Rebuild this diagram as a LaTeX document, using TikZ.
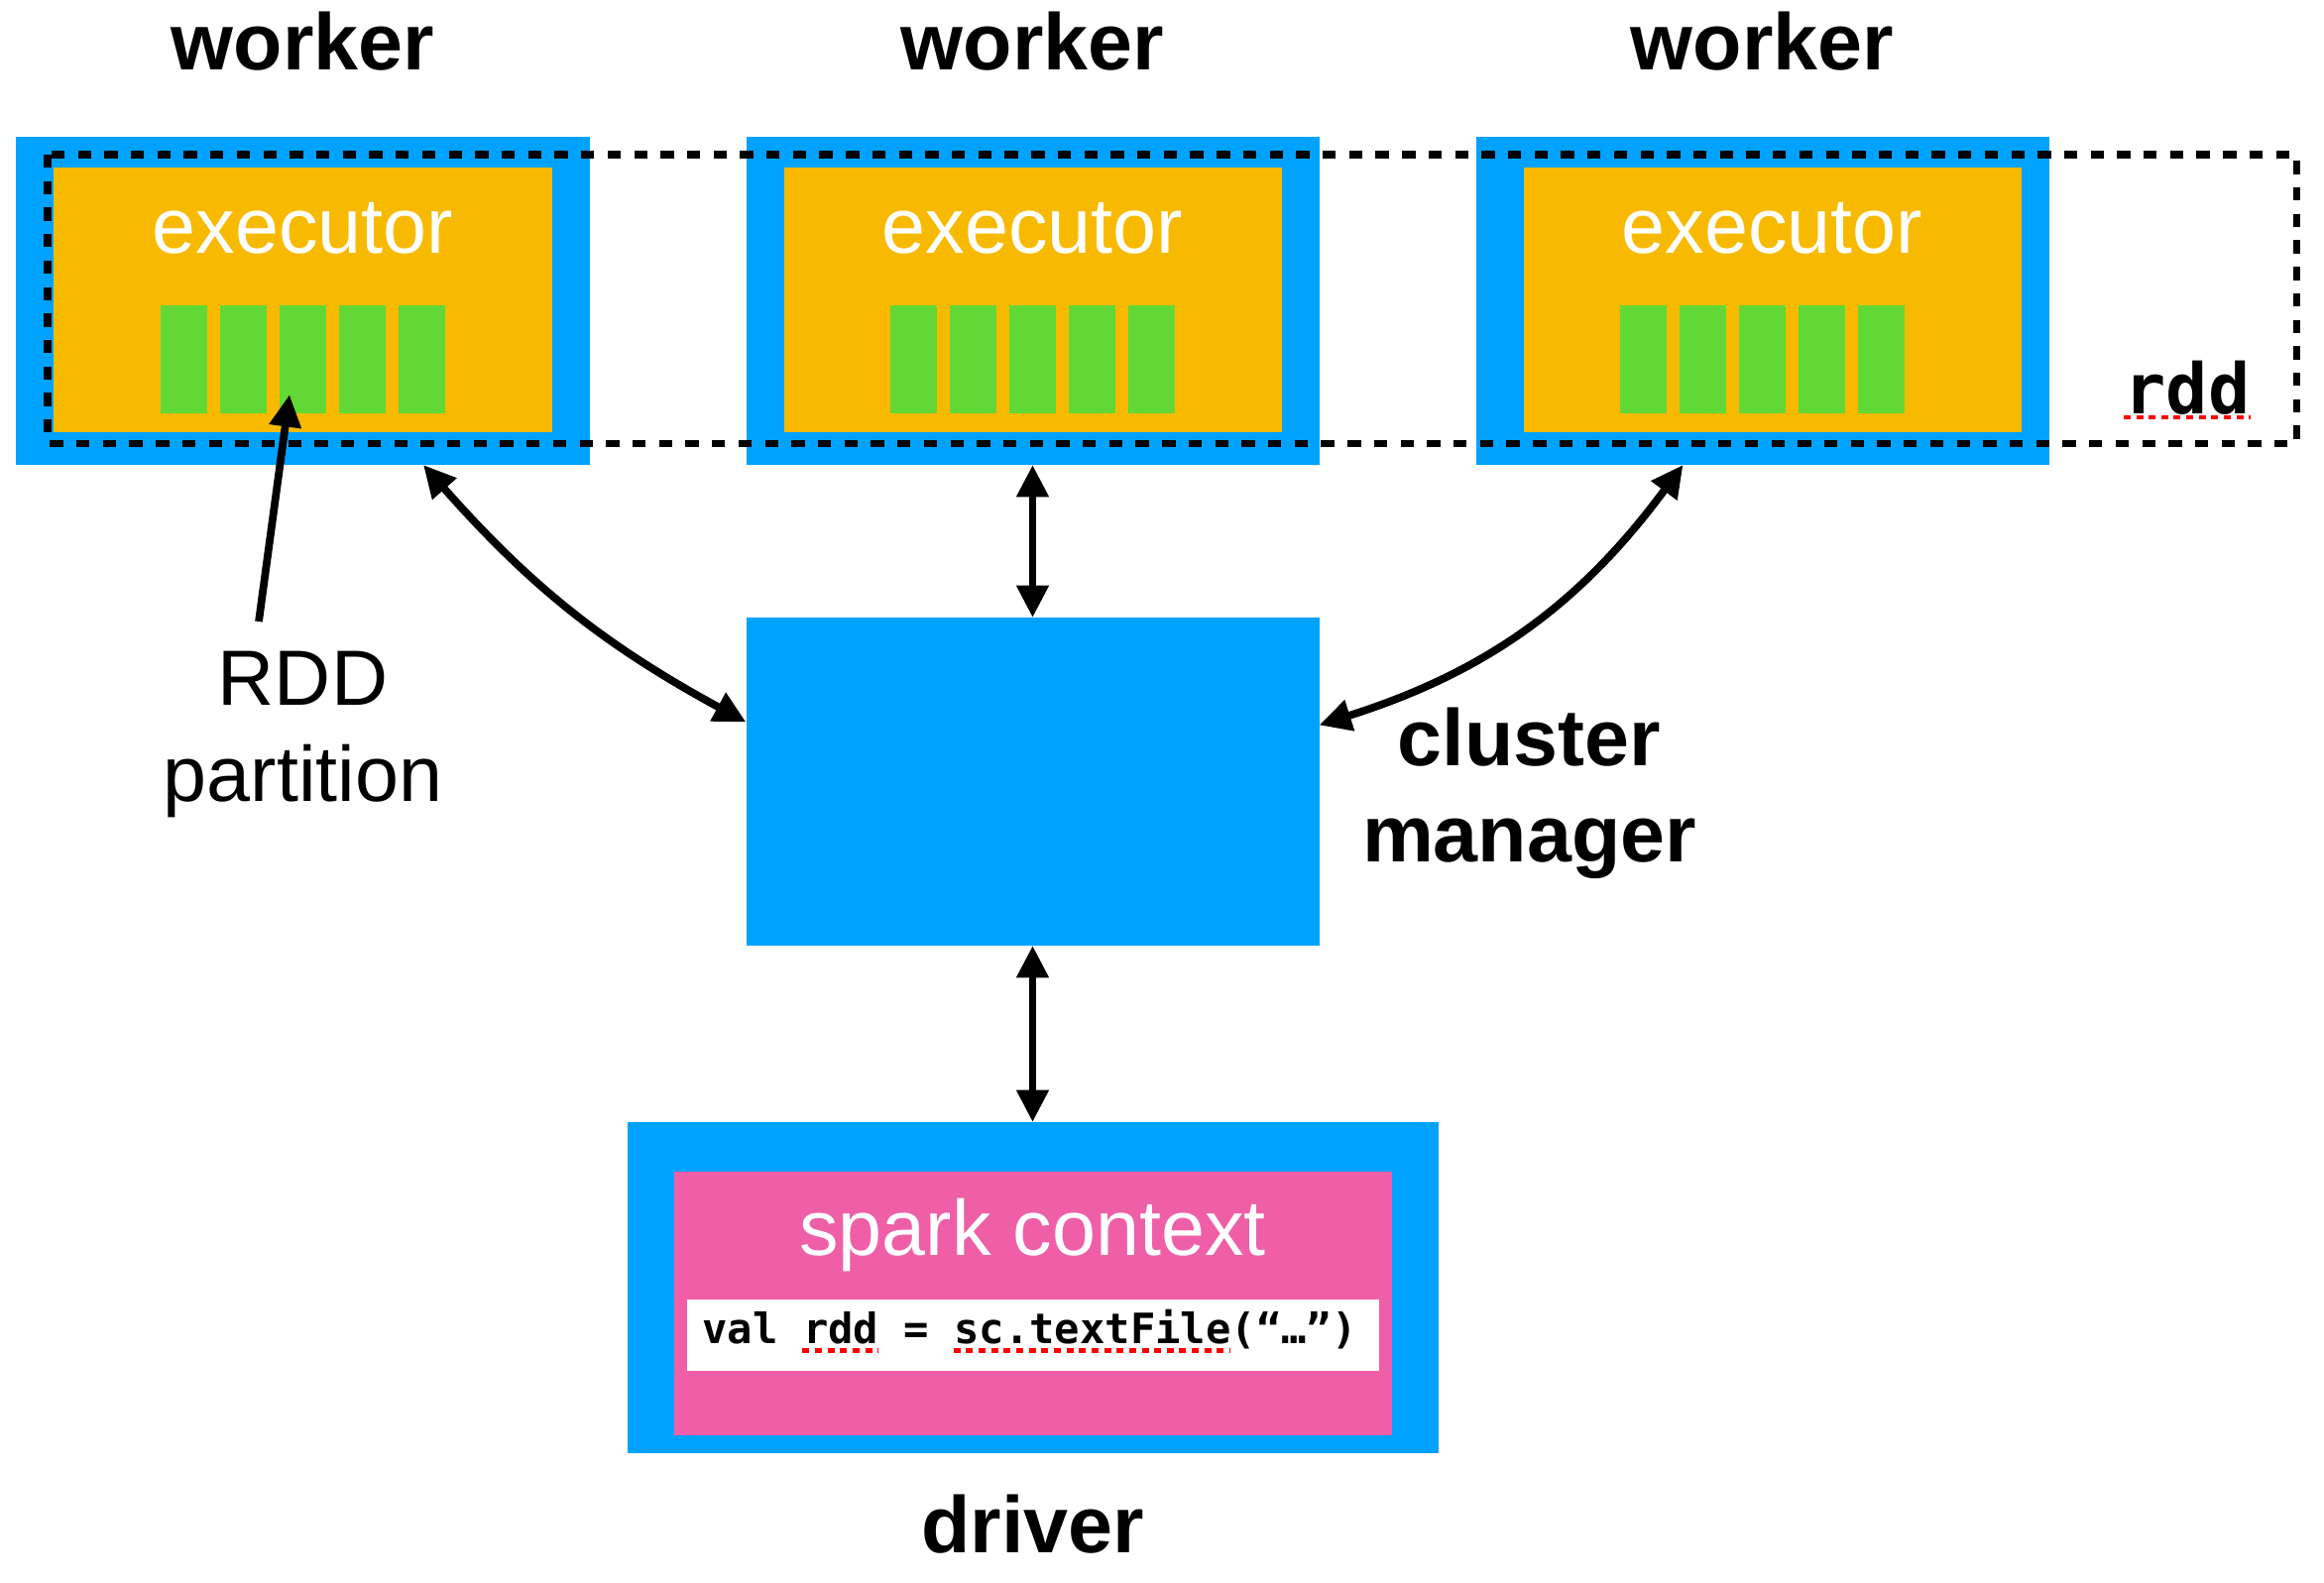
\documentclass[tikz,border=0pt]{standalone}
\usepackage{fontspec}
\setmainfont{Liberation Sans}
\newfontfamily\codefont{DejaVu Sans Mono}
\usetikzlibrary{positioning}
\usetikzlibrary{arrows.meta}

\definecolor{kblue}{HTML}{00A2FF}
\definecolor{korange}{HTML}{F8BA00}
\definecolor{kgreen}{HTML}{61D836}
\definecolor{kpink}{HTML}{EF5FA7}

% width of one code character
\newcommand{\chw}{.2539cm}

\tikzset{
    hostbox/.style={fill=kblue, inner sep=0, outer sep=0, minimum width=5.78cm, minimum height=3.31cm},
    execbox/.style={fill=korange, inner sep=0, minimum width=5.02cm, minimum height=2.67cm},
    partbox/.style={fill=kgreen, inner sep=0, minimum width=.465cm, minimum height=1.09cm},
    boldlabel/.style={inner sep=0, font=\fontsize{23}{27.6}\selectfont\bfseries},
    plainlabel/.style={inner sep=0, font=\fontsize{22.5}{27.6}\selectfont},
    whitelabel/.style={plainlabel, text=white},
    link/.style={line width=2.2pt, <->},
    spell/.style={draw=red, line width=1.3pt, dash pattern=on 2pt off 1.6pt},
}

\begin{document}
\begin{tikzpicture}[>={Triangle[length=9.2pt,width=8.8pt]}]
    \useasboundingbox (0,0) rectangle (23.44,-15.96);

    % workers
    \node (w1) [hostbox] at (3.055,-3.035) {};
    \node (w2) [hostbox, right=1.58cm of w1] {};
    \node (w3) [hostbox, right=1.58cm of w2] {};
    \foreach \w/\dx in {1/0, 2/0, 3/.1} {
        \node (e\w) [execbox] at ([xshift=\dx cm, yshift=.01cm]w\w.center) {};
        \node (x\w) [whitelabel, anchor=base] at ([yshift=-.87cm]e\w.north) {executor};
        \foreach \i in {1,...,5}
            \node (p\w-\i) [partbox] at ([xshift={(\i-3)*.6cm}, yshift=-.59cm]w\w.center) {};
        \node (wl\w) [boldlabel, above=.66cm of w\w] {worker};
    }

    % rdd
    \draw [line width=2pt, dash pattern=on 3.8pt off 3.8pt] (0.48,-1.56) rectangle (23.16,-4.475);
    \node (rddl) [inner sep=0, anchor=base, font=\codefont\bfseries\fontsize{20}{24}\selectfont] at (22.06,-4.17) {rdd};
    \draw [spell] ([yshift=-.04cm]rddl.base west) -- ([yshift=-.04cm]rddl.base east);

    % cluster manager
    \node (cm) [hostbox, below=1.54cm of w2] {};
    \node (cml) [boldlabel, align=center, anchor=north] at ([xshift=2.12cm, yshift=.75cm]cm.east) {cluster\\manager};

    % driver
    \node (drv) [hostbox, minimum width=8.18cm, minimum height=3.34cm, below=1.78cm of cm] {};
    \node (ctx) [fill=kpink, inner sep=0, minimum width=7.24cm, minimum height=2.66cm] at ([yshift=-.16cm]drv.center) {};
    \node (sct) [whitelabel, anchor=base] at ([yshift=-.85cm]ctx.north) {spark context};
    \node (code) [fill=white, inner sep=0, minimum width=6.98cm, minimum height=.72cm, anchor=north] at ([yshift=-1.29cm]ctx.north) {};
    \node (codeline) [inner sep=0, anchor=base west, font=\codefont\bfseries\fontsize{12}{14}\selectfont] at ([xshift=.16cm, yshift=-.45cm]code.north west) {val rdd = sc.textFile(“…”)};
    \draw [spell] ([xshift={4*\chw}, yshift=-.07cm]codeline.base west) -- ([xshift={7*\chw}, yshift=-.07cm]codeline.base west);
    \draw [spell] ([xshift={10*\chw}, yshift=-.07cm]codeline.base west) -- ([xshift={21*\chw}, yshift=-.07cm]codeline.base west);
    \node (dl) [boldlabel, below=.41cm of drv] {driver};

    \node (rddp) [plainlabel, align=center, below=1.87cm of w1] {RDD\\partition};

    % links
    \draw [link] (w2) -- (cm);
    \draw [link] (cm) -- (drv);
    \draw [link] ([xshift=1.215cm]w1.south) to [bend right=10] ([yshift=.6cm]cm.west);
    \draw [link] ([yshift=.57cm]cm.east) to [bend right=18] ([xshift=-.8cm]w3.south);
    \draw [line width=2.2pt, ->] ([xshift=-.445cm, yshift=.29cm]rddp.north) -- ([xshift=-.135cm, yshift=.195cm]p1-3.south);
\end{tikzpicture}
\end{document}
